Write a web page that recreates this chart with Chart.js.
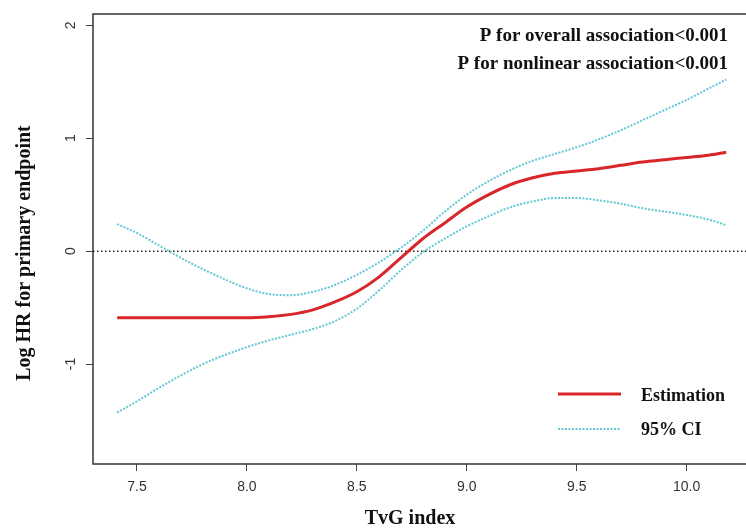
<!DOCTYPE html>
<html>
<head>
<meta charset="utf-8">
<script src="https://cdn.jsdelivr.net/npm/chart.js@4"></script>
<style>
  html, body { margin: 0; padding: 0; background: #fff; }
</style>
</head>
<body>
<canvas id="myChart" width="746" height="530"></canvas>
<script>
// Werte
const tvg = [7.41, 7.5, 7.6, 7.7, 7.8, 7.9, 8.0, 8.1, 8.2, 8.3, 8.4, 8.5, 8.6, 8.7, 8.8, 8.9,
             9.0, 9.1, 9.2, 9.3, 9.4, 9.5, 9.6, 9.7, 9.8, 9.9, 10.0, 10.1, 10.18];
const estimation = [-0.59, -0.59, -0.59, -0.59, -0.59, -0.59, -0.59, -0.58, -0.56, -0.52, -0.45, -0.36,
                    -0.23, -0.06, 0.11, 0.25, 0.39, 0.50, 0.59, 0.65, 0.69, 0.71, 0.73, 0.76, 0.79,
                    0.81, 0.83, 0.85, 0.876];
const ciUpper = [0.24, 0.16, 0.05, -0.06, -0.16, -0.25, -0.33, -0.38, -0.39, -0.36, -0.30, -0.21,
                 -0.10, 0.03, 0.18, 0.35, 0.50, 0.62, 0.72, 0.80, 0.86, 0.92, 0.99, 1.07, 1.16,
                 1.25, 1.34, 1.44, 1.52];
const ciLower = [-1.43, -1.33, -1.21, -1.10, -1.00, -0.92, -0.85, -0.79, -0.74, -0.69, -0.62, -0.51,
                 -0.35, -0.17, -0.01, 0.11, 0.22, 0.31, 0.39, 0.44, 0.47, 0.47, 0.45, 0.42, 0.38,
                 0.35, 0.32, 0.28, 0.23];
const xTicks = [7.5, 8.0, 8.5, 9.0, 9.5, 10.0];
const yTicks = [-1, 0, 1, 2];
const pTexts = ["P for overall association<0.001", "P for nonlinear association<0.001"];
const legendLabels = ["Estimation", "95% CI"];
const xTitle = "TvG index";
const yTitle = "Log HR for primary endpoint";

const RED = '#d8262b';
const CYAN = '#62c8d3';
const SERIF = '"Liberation Serif", "DejaVu Serif", serif';
const SANS = '"Liberation Sans Narrow", "Liberation Sans", Arial, sans-serif';

function toPoints(ys) {
    return tvg.map((x, i) => ({ x: x, y: ys[i] }));
}

// Rahmen, Nulllinie, Texte und Legende
const decoPlugin = {
    id: 'deco',
    beforeDatasetsDraw(chart) {
        const { ctx, chartArea: a, scales: { y } } = chart;
        const y0 = y.getPixelForValue(0);
        ctx.save();
        ctx.strokeStyle = '#222';
        ctx.lineWidth = 1.5;
        ctx.setLineDash([1.5, 2.5]);
        ctx.beginPath();
        ctx.moveTo(a.left, y0);
        ctx.lineTo(a.right, y0);
        ctx.stroke();
        ctx.restore();
    },
    afterDraw(chart) {
        const { ctx, chartArea: a, scales: { y } } = chart;
        ctx.save();
        // Rahmen (rechts abgeschnitten wie im Original)
        ctx.strokeStyle = '#333';
        ctx.lineWidth = 1.5;
        ctx.beginPath();
        ctx.moveTo(a.right, a.top);
        ctx.lineTo(a.left, a.top);
        ctx.lineTo(a.left, a.bottom);
        ctx.lineTo(a.right, a.bottom);
        ctx.stroke();

        // y-Achsenbeschriftung gedreht
        ctx.fillStyle = '#333';
        ctx.font = '14px ' + SANS;
        ctx.textAlign = 'center';
        ctx.textBaseline = 'middle';
        yTicks.forEach((v) => {
            ctx.save();
            ctx.translate(71, y.getPixelForValue(v));
            ctx.rotate(-Math.PI / 2);
            ctx.fillText(String(v), 0, 0);
            ctx.restore();
        });

        // Achsentitel
        ctx.fillStyle = '#111';
        ctx.font = 'bold 20px ' + SERIF;
        ctx.save();
        ctx.translate(25, 253);
        ctx.rotate(-Math.PI / 2);
        ctx.fillText(yTitle, 0, 0);
        ctx.restore();
        ctx.fillText(xTitle, 410, 519);

        // P-Werte
        ctx.font = 'bold 19px ' + SERIF;
        ctx.textAlign = 'right';
        ctx.fillText(pTexts[0], 728, 36);
        ctx.fillText(pTexts[1], 728, 64);

        // Legende
        ctx.font = 'bold 18px ' + SERIF;
        ctx.textAlign = 'left';
        ctx.fillText(legendLabels[0], 641, 396);
        ctx.fillText(legendLabels[1], 641, 430);
        ctx.strokeStyle = RED;
        ctx.lineWidth = 3;
        ctx.beginPath();
        ctx.moveTo(558, 394);
        ctx.lineTo(621, 394);
        ctx.stroke();
        ctx.strokeStyle = CYAN;
        ctx.lineWidth = 2;
        ctx.setLineDash([2, 1.5]);
        ctx.beginPath();
        ctx.moveTo(558, 429);
        ctx.lineTo(621, 429);
        ctx.stroke();
        ctx.restore();
    }
};

const ctx = document.getElementById("myChart").getContext("2d");

let chart = new Chart(ctx, {
    type: "line",
    data: {
        datasets: [
            {
                label: legendLabels[1],
                data: toPoints(ciUpper),
                borderColor: CYAN,
                borderWidth: 2,
                borderDash: [2, 1.5],
                pointRadius: 0,
                cubicInterpolationMode: 'monotone'
            },
            {
                label: legendLabels[1],
                data: toPoints(ciLower),
                borderColor: CYAN,
                borderWidth: 2,
                borderDash: [2, 1.5],
                pointRadius: 0,
                cubicInterpolationMode: 'monotone'
            },
            {
                label: legendLabels[0],
                data: toPoints(estimation),
                borderColor: RED,
                borderWidth: 3,
                pointRadius: 0,
                cubicInterpolationMode: 'monotone'
            }
        ]
    },
    options: {
        responsive: false,
        animation: false,
        layout: { padding: { top: 14, left: 0, right: 0, bottom: 0 } },
        plugins: {
            legend: { display: false },
            tooltip: { enabled: false }
        },
        scales: {
            x: {
                type: 'linear',
                min: 7.3,
                max: 10.27,
                afterBuildTicks: (s) => { s.ticks = xTicks.map((v) => ({ value: v })); },
                afterFit: (s) => { s.height = 66; },
                border: { display: false },
                grid: { drawOnChartArea: false, tickLength: 7, color: '#444', lineWidth: 1 },
                ticks: {
                    callback: (v) => Number(v).toFixed(1),
                    color: '#333',
                    font: { family: SANS, size: 14 },
                    padding: 8,
                    maxRotation: 0
                }
            },
            y: {
                min: -1.885,
                max: 2.10,
                afterBuildTicks: (s) => { s.ticks = yTicks.map((v) => ({ value: v })); },
                afterFit: (s) => { s.width = 93; },
                border: { display: false },
                grid: { drawOnChartArea: false, tickLength: 7, color: '#444', lineWidth: 1 },
                ticks: { display: false }
            }
        }
    },
    plugins: [decoPlugin]
});
</script>
</body>
</html>
